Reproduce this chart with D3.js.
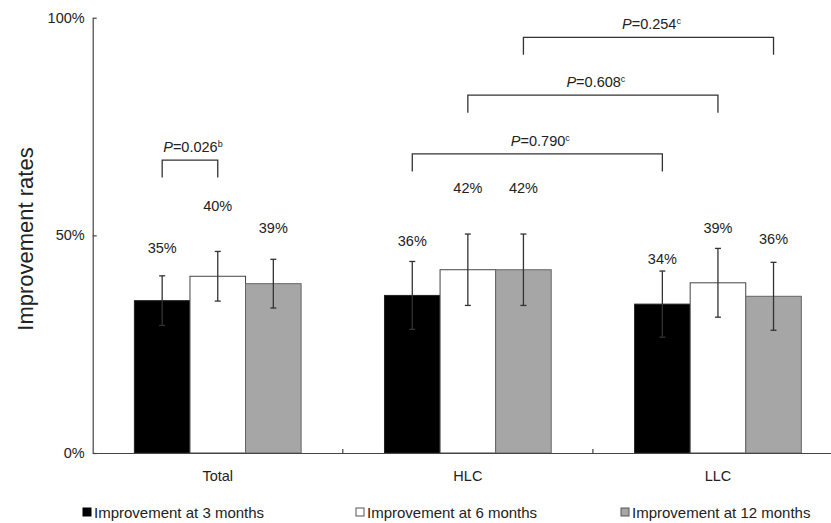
<!DOCTYPE html>
<html>
<head>
<meta charset="utf-8">
<script src="https://cdn.jsdelivr.net/npm/d3@7"></script>
<style>
  body { margin: 0; background: #fff; }
  text { font-family: "Liberation Sans", Arial, sans-serif; fill: #222; }
</style>
</head>
<body>
<svg id="chart" width="831" height="523"></svg>
<script>
// data
var categories = ["Total", "HLC", "LLC"];
var seriesNames = ["Improvement at 3 months", "Improvement at 6 months", "Improvement at 12 months"];
var rate3m  = [0.350, 0.362, 0.342];
var rate6m  = [0.406, 0.421, 0.391];
var rate12m = [0.389, 0.421, 0.360];
var err3m  = [0.057, 0.078, 0.076];
var err6m  = [0.057, 0.082, 0.079];
var err12m = [0.056, 0.082, 0.078];
var label3m  = ["35%", "36%", "34%"];
var label6m  = ["40%", "42%", "39%"];
var label12m = ["39%", "42%", "36%"];
var yTicks = [0, 0.5, 1];

// comparisons: [category, series] -> [category, series]
var comparisons = [
  { from: [0, 0], to: [0, 1], p: "0.026", sup: "b", level: 0.673 },
  { from: [1, 0], to: [2, 0], p: "0.790", sup: "c", level: 0.687 },
  { from: [1, 1], to: [2, 1], p: "0.608", sup: "c", level: 0.822 },
  { from: [1, 2], to: [2, 2], p: "0.254", sup: "c", level: 0.955 }
];

var rates = [rate3m, rate6m, rate12m];
var errs = [err3m, err6m, err12m];
var labels = [label3m, label6m, label12m];
var fills = ["#000", "#fff", "#a6a6a6"];
var strokes = ["#222", "#444", "#666"];
// how far above the error bar each value label sits (px), per series / category
var labelLift = [[28, 20, 12], [45, 46, 20], [31, 46, 23]];

var svg = d3.select("#chart");
var plotL = 92.7, plotR = 843, plotT = 17.7, plotB = 453;

var x = d3.scaleBand().domain(d3.range(categories.length)).range([plotL, plotR]).paddingInner(0).paddingOuter(0);
var xs = d3.scaleBand().domain(d3.range(seriesNames.length)).range([0, x.bandwidth()]).paddingInner(0).paddingOuter(0.75);
var y = d3.scaleLinear().domain([0, 1]).range([plotB, plotT]);

function cx(c, s) { return x(c) + xs(s) + xs.bandwidth() / 2; }

var cells = [];
rates.forEach(function(r, s) {
  r.forEach(function(v, c) {
    cells.push({ s: s, c: c, v: v, e: errs[s][c], label: labels[s][c] });
  });
});

// bars
svg.append("g").selectAll("rect").data(cells).enter().append("rect")
  .attr("x", function(d) { return x(d.c) + xs(d.s); })
  .attr("y", function(d) { return y(d.v); })
  .attr("width", xs.bandwidth())
  .attr("height", function(d) { return y(0) - y(d.v); })
  .attr("fill", function(d) { return fills[d.s]; })
  .attr("stroke", function(d) { return strokes[d.s]; })
  .attr("stroke-width", 1);

// error bars
var eb = svg.append("g").attr("stroke", "#333").attr("stroke-width", 1.3);
cells.forEach(function(d) {
  var xc = cx(d.c, d.s);
  eb.append("line").attr("x1", xc).attr("x2", xc).attr("y1", y(d.v - d.e)).attr("y2", y(d.v + d.e));
  eb.append("line").attr("x1", xc - 3).attr("x2", xc + 3).attr("y1", y(d.v + d.e)).attr("y2", y(d.v + d.e));
  eb.append("line").attr("x1", xc - 3).attr("x2", xc + 3).attr("y1", y(d.v - d.e)).attr("y2", y(d.v - d.e));
});

// value labels
svg.append("g").selectAll("text").data(cells).enter().append("text")
  .attr("x", function(d) { return cx(d.c, d.s); })
  .attr("y", function(d) { return y(d.v + d.e) - labelLift[d.s][d.c]; })
  .attr("text-anchor", "middle")
  .attr("dominant-baseline", "central")
  .style("font-size", "14.5px")
  .text(function(d) { return d.label; });

// y axis
var yAxis = svg.append("g").attr("transform", "translate(" + plotL + ",0)")
  .call(d3.axisLeft(y).tickValues(yTicks).tickFormat(d3.format(".0%")).tickSizeInner(-4).tickSizeOuter(0).tickPadding(8));
yAxis.selectAll("text").style("font-size", "14.5px").style("fill", "#222");
yAxis.selectAll("line, path").attr("stroke", "#444").attr("stroke-width", 1.2);

// x axis
var xAxis = svg.append("g").attr("transform", "translate(0," + plotB + ")")
  .call(d3.axisBottom(x).tickFormat(function(i) { return categories[i]; }).tickSize(0).tickPadding(18));
xAxis.select(".domain").attr("stroke", "#444").attr("stroke-width", 1.2);
xAxis.selectAll("text").style("font-size", "14.5px").style("fill", "#222");
svg.append("g").selectAll("line").data(d3.range(1, categories.length)).enter().append("line")
  .attr("x1", function(i) { return x(i); }).attr("x2", function(i) { return x(i); })
  .attr("y1", plotB).attr("y2", plotB - 4)
  .attr("stroke", "#444").attr("stroke-width", 1.2);

// y axis title
svg.append("text")
  .attr("transform", "translate(25,239) rotate(-90)")
  .attr("text-anchor", "middle")
  .attr("dominant-baseline", "central")
  .style("font-size", "22px")
  .text("Improvement rates");

// significance brackets
var br = svg.append("g");
comparisons.forEach(function(b) {
  var x1 = cx(b.from[0], b.from[1]), x2 = cx(b.to[0], b.to[1]), yt = y(b.level);
  br.append("path")
    .attr("d", "M" + x1 + "," + (yt + 17.5) + "V" + yt + "H" + x2 + "V" + (yt + 17.5))
    .attr("fill", "none").attr("stroke", "#333").attr("stroke-width", 1.3);
  var t = br.append("text")
    .attr("x", (x1 + x2) / 2 + 3)
    .attr("y", yt - 8)
    .attr("text-anchor", "middle")
    .style("font-size", "14.5px");
  t.append("tspan").style("font-style", "italic").text("P");
  t.append("tspan").text("=" + b.p);
  t.append("tspan").attr("dy", -5).style("font-size", "9px").text(b.sup);
});

// legend
var legendX = [83, 356, 621];
var lg = svg.append("g").selectAll("g").data(seriesNames).enter().append("g")
  .attr("transform", function(d, i) { return "translate(" + legendX[i] + ",508)"; });
lg.append("rect").attr("width", 8).attr("height", 8)
  .attr("fill", function(d, i) { return fills[i]; })
  .attr("stroke", function(d, i) { return i === 0 ? "#000" : "#555"; });
lg.append("text").attr("x", 11).attr("y", 10)
  .style("font-size", "15px")
  .text(function(d) { return d; });
</script>
</body>
</html>
